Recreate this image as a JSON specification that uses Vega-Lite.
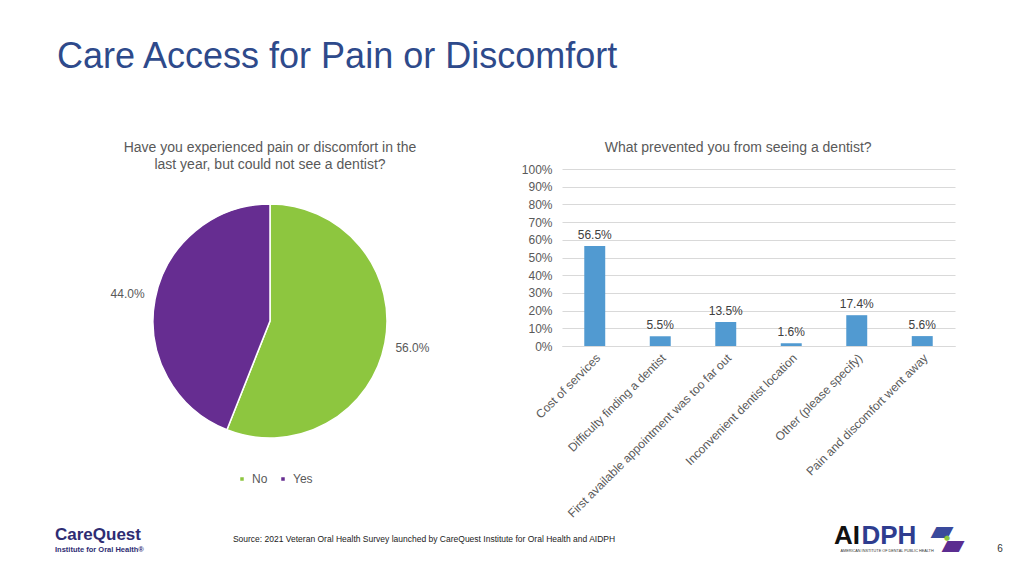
{
  "$schema": "https://vega.github.io/schema/vega-lite/v6.json",
  "background": "white",
  "padding": {"left": 30, "top": 39, "right": 0, "bottom": 0},
  "config": {"view": {"stroke": null}, "font": "Liberation Sans"},
  "title": {"text": "Care Access for Pain or Discomfort", "anchor": "start", "frame": "group", "dx": 27, "fontSize": 36, "fontWeight": "normal", "color": "#2E4A8B", "font": "Liberation Sans", "baseline": "alphabetic", "offset": 37},
  "columns": 6,
  "spacing": 0,
  "align": "each",
  "bounds": "flush",
  "concat": [
    {"width": 50, "height": 1, "data": {"values": []}, "mark": "point"},
    {"width": 174, "height": 1, "data": {"values": []}, "mark": "point"},
    {
      "width": 32, "height": 304,
      "title": {"text": ["Have you experienced pain or discomfort in the", "last year, but could not see a dentist?"], "fontSize": 14, "fontWeight": "normal", "color": "#595959", "anchor": "middle", "lineHeight": 17, "offset": -3},
      "data": {"values": [{"answer": "No", "share": 0.56}, {"answer": "Yes", "share": 0.44}]},
      "layer": [
        {
          "mark": {"type": "arc", "outerRadius": 117, "stroke": "white", "strokeWidth": 1.5},
          "encoding": {
            "theta": {"field": "share", "type": "quantitative", "stack": true},
            "order": {"field": "answer", "sort": "ascending"},
            "color": {"field": "answer", "type": "nominal", "scale": {"domain": ["No", "Yes"], "range": ["#8DC63F", "#662D91"]},
              "legend": {"orient": "none", "legendX": 206, "legendY": 304, "direction": "horizontal", "title": null, "symbolType": "square", "symbolSize": 25, "labelFontSize": 12, "labelColor": "#595959", "columnPadding": 9, "labelOffset": 4}}
          }
        },
        {
          "mark": {"type": "text", "radius": 145, "fontSize": 12, "color": "#595959"},
          "encoding": {
            "theta": {"field": "share", "type": "quantitative", "stack": true},
            "order": {"field": "answer", "sort": "ascending"},
            "detail": {"field": "answer", "type": "nominal"},
            "text": {"field": "share", "type": "quantitative", "format": ".1%"}
          }
        }
      ]
    },
    {"width": 276, "height": 1, "data": {"values": []}, "mark": "point"},
    {
      "width": 393, "height": 177,
      "title": {"text": "What prevented you from seeing a dentist?", "fontSize": 14, "fontWeight": "normal", "color": "#595959", "anchor": "middle", "frame": "bounds", "offset": 8},
      "data": {"values": [
        {"reason": "Cost of services", "pct": 0.565},
        {"reason": "Difficulty finding a dentist", "pct": 0.055},
        {"reason": "First available appointment was too far out", "pct": 0.135},
        {"reason": "Inconvenient dentist location", "pct": 0.016},
        {"reason": "Other (please specify)", "pct": 0.174},
        {"reason": "Pain and discomfort went away", "pct": 0.056}
      ]},
      "encoding": {
        "x": {"field": "reason", "type": "nominal", "sort": null, "scale": {"paddingInner": 0.68, "paddingOuter": 0.34},
          "axis": {"title": null, "labelAngle": -45, "labelFontSize": 12, "labelColor": "#595959", "ticks": false, "domainColor": "#D9D9D9", "labelPadding": 6, "labelLimit": 400}},
        "y": {"field": "pct", "type": "quantitative", "scale": {"domain": [0, 1]},
          "axis": {"title": null, "format": ".0%", "values": [0, 0.1, 0.2, 0.3, 0.4, 0.5, 0.6, 0.7, 0.8, 0.9, 1], "labelFontSize": 12, "labelColor": "#595959", "ticks": false, "domain": false, "gridColor": "#D9D9D9", "labelPadding": 10}}
      },
      "layer": [
        {"mark": {"type": "bar", "color": "#519AD1"}},
        {"mark": {"type": "text", "baseline": "alphabetic", "dy": -7, "fontSize": 12, "color": "#404040"},
          "encoding": {"text": {"field": "pct", "type": "quantitative", "format": ".1%"}}}
      ]
    },
    {"width": 90, "height": 1, "data": {"values": []}, "mark": "point"},
    {
      "width": 50, "height": 144,
      "data": {"values": [{"brand": "CareQuest", "tag": "Institute for Oral Health®"}]},
      "layer": [
        {"mark": {"type": "text", "fontSize": 17, "fontWeight": "bold", "color": "#2E2C73", "align": "left", "baseline": "alphabetic", "dy": -5},
          "encoding": {"text": {"field": "brand", "type": "nominal"}}},
        {"mark": {"type": "text", "fontSize": 7.5, "fontWeight": "bold", "color": "#2E2C73", "align": "left", "baseline": "alphabetic", "dy": 7},
          "encoding": {"text": {"field": "tag", "type": "nominal"}}}
      ]
    },
    {"width": 174, "height": 1, "data": {"values": []}, "mark": "point"},
    {"width": 32, "height": 1, "data": {"values": []}, "mark": "point"},
    {
      "width": 276, "height": 132,
      "data": {"values": [{"note": "Source: 2021 Veteran Oral Health Survey launched by CareQuest Institute for Oral Health and AIDPH"}]},
      "mark": {"type": "text", "fontSize": 8.5, "color": "#222222", "baseline": "middle"},
      "encoding": {"text": {"field": "note", "type": "nominal"}}
    },
    {
      "width": 393, "height": 142,
      "data": {"values": [{"a": "AI", "b": "DPH", "c": "AMERICAN INSTITUTE OF DENTAL PUBLIC HEALTH", "logo": "▰", "dot": "●"}]},
      "layer": [
        {"mark": {"type": "text", "fontSize": 26, "fontWeight": "bold", "color": "#111111", "align": "right", "baseline": "alphabetic", "dx": 101.5},
          "encoding": {"text": {"field": "a", "type": "nominal"}}},
        {"mark": {"type": "text", "fontSize": 26, "fontWeight": "bold", "color": "#2E3D8F", "align": "left", "baseline": "alphabetic", "dx": 103},
          "encoding": {"text": {"field": "b", "type": "nominal"}}},
        {"mark": {"type": "text", "fontSize": 3.8, "color": "#333333", "align": "left", "baseline": "alphabetic", "dx": 82, "dy": 8},
          "encoding": {"text": {"field": "c", "type": "nominal"}}},
        {"mark": {"type": "text", "font": "DejaVu Sans", "fontSize": 30, "color": "#3A4A9C", "baseline": "middle", "dx": 183.5, "dy": -13},
          "encoding": {"text": {"field": "logo", "type": "nominal"}}},
        {"mark": {"type": "text", "font": "DejaVu Sans", "fontSize": 30, "color": "#5B2D90", "baseline": "middle", "dx": 194.5, "dy": 1},
          "encoding": {"text": {"field": "logo", "type": "nominal"}}},
        {"mark": {"type": "text", "font": "DejaVu Sans", "fontSize": 7, "color": "#8DC63F", "baseline": "middle", "dx": 188.5, "dy": -6},
          "encoding": {"text": {"field": "dot", "type": "nominal"}}}
      ]
    },
    {
      "width": 90, "height": 150,
      "data": {"values": [{"page": "6"}]},
      "mark": {"type": "text", "fontSize": 10, "color": "#333333", "baseline": "middle", "dy": 1},
      "encoding": {"text": {"field": "page", "type": "nominal"}}
    }
  ]
}
